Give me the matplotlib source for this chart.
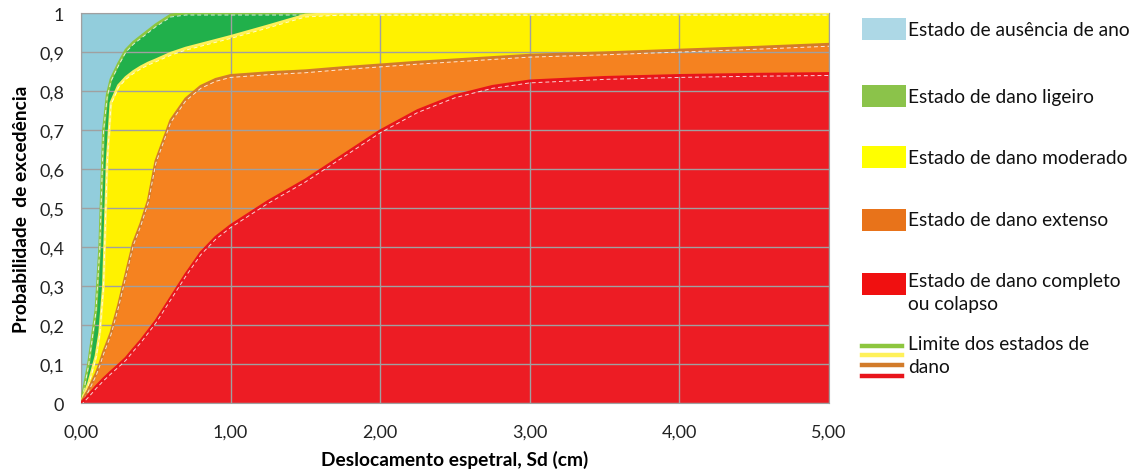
import numpy as np
import matplotlib
matplotlib.use("Agg")
import matplotlib.pyplot as plt
from matplotlib.patches import Rectangle
from matplotlib.lines import Line2D
from matplotlib import transforms

plt.rcParams['font.family'] = ['Lato', 'DejaVu Sans']

# spectral displacement (cm)
sd = [0, 0.05, 0.1, 0.125, 0.15, 0.175, 0.2, 0.25, 0.3, 0.35, 0.4, 0.45, 0.5, 0.6,
      0.7, 0.8, 0.9, 1.0, 1.25, 1.5, 1.75, 2.0, 2.25, 2.5, 2.75, 3.0, 3.5, 4.0, 4.5, 5.0]

# exceedance probability of each damage state
p_ligeiro = [0, 0.10, 0.24, 0.40, 0.70, 0.79, 0.83, 0.87, 0.905, 0.925, 0.94, 0.955, 0.97, 0.995,
             1.0, 1.0, 1.0, 1.0, 1.0, 1.0, 1.0, 1.0, 1.0, 1.0, 1.0, 1.0, 1.0, 1.0, 1.0, 1.0]
p_moderado = [0, 0.05, 0.12, 0.18, 0.30, 0.62, 0.77, 0.814, 0.835, 0.85, 0.862, 0.872, 0.88, 0.897,
              0.91, 0.92, 0.93, 0.94, 0.967, 0.995, 1.0, 1.0, 1.0, 1.0, 1.0, 1.0, 1.0, 1.0, 1.0, 1.0]
p_extenso = [0, 0.035, 0.075, 0.10, 0.13, 0.155, 0.18, 0.25, 0.33, 0.41, 0.46, 0.52, 0.62, 0.725,
             0.78, 0.812, 0.83, 0.84, 0.847, 0.852, 0.86, 0.867, 0.874, 0.88, 0.886, 0.892, 0.898,
             0.905, 0.912, 0.92]
p_completo = [0, 0.02, 0.042, 0.052, 0.062, 0.071, 0.08, 0.097, 0.115, 0.138, 0.16, 0.185, 0.21, 0.27,
              0.33, 0.385, 0.425, 0.455, 0.517, 0.572, 0.635, 0.698, 0.75, 0.788, 0.812, 0.826, 0.835,
              0.84, 0.843, 0.845]

x_ticks = [0, 1, 2, 3, 4, 5]
y_ticks = [0, 0.1, 0.2, 0.3, 0.4, 0.5, 0.6, 0.7, 0.8, 0.9, 1.0]
x_labels = ['0,00', '1,00', '2,00', '3,00', '4,00', '5,00']
y_labels = ['0', '0,1', '0,2', '0,3', '0,4', '0,5', '0,6', '0,7', '0,8', '0,9', '1']

legend_labels = ['Estado de ausência de ano', 'Estado de dano ligeiro', 'Estado de dano moderado',
                 'Estado de dano extenso', 'Estado de dano completo\nou colapso',
                 'Limite dos estados de\ndano']

fill_cols = ['#92CDDC', '#21B04B', '#FFF200', '#F58220', '#ED1C24']
leg_cols = ['#ADD8E6', '#8BC34A', '#FFFF00', '#E8731A', '#F01010']
line_cols = ['#8DC63F', '#FFF15A', '#D27B2A', '#E8141B']

x = np.array(sd)
ones = np.ones_like(x)

fig = plt.figure(figsize=(11.38, 4.77), dpi=100)
ax = fig.add_axes([0.0712, 0.153, 0.6573, 0.8176])

ax.fill_between(x, p_ligeiro, ones, color=fill_cols[0], lw=0)
ax.fill_between(x, p_moderado, p_ligeiro, color=fill_cols[1], lw=0)
ax.fill_between(x, p_extenso, p_moderado, color=fill_cols[2], lw=0)
ax.fill_between(x, p_completo, p_extenso, color=fill_cols[3], lw=0)
ax.fill_between(x, 0, p_completo, color=fill_cols[4], lw=0)

# damage state limits, with a thin white dashed trace just below
below = transforms.offset_copy(ax.transData, fig=fig, x=0, y=-2, units='dots')
for curve, c in zip([p_ligeiro, p_moderado, p_extenso, p_completo], line_cols):
    ax.plot(x, curve, color=c, lw=2, zorder=4, solid_capstyle='round', solid_joinstyle='round')
    ax.plot(x, curve, color='white', lw=0.7, ls=(0, (4, 3)), alpha=0.8,
            transform=below, zorder=4)

ax.set_xlim(0, 5)
ax.set_ylim(0, 1)
ax.set_xticks(x_ticks)
ax.set_xticklabels(x_labels)
ax.set_yticks(y_ticks)
ax.set_yticklabels(y_labels)
ax.tick_params(length=0, labelsize=13, colors='#222222')
ax.tick_params(axis='x', pad=15)
ax.tick_params(axis='y', pad=12)
ax.grid(True, color='#A0A0A0', lw=1, zorder=3)
ax.set_axisbelow(False)
for s in ax.spines.values():
    s.set_color('#A0A0A0')

ax.set_xlabel('Deslocamento espetral, Sd (cm)', fontsize=13.8, fontweight='bold', labelpad=7)
ax.set_ylabel('Probabilidade  de excedência', fontsize=13.8, fontweight='bold', labelpad=7)

# legend on the right
W, H = 1138, 477
box_ys = [30, 97, 158, 221, 285]
for yc, col, lab in zip(box_ys, leg_cols, legend_labels[:5]):
    fig.patches.append(Rectangle((862 / W, 1 - (yc + 11) / H), 44 / W, 22 / H,
                                 transform=fig.transFigure, color=col, lw=0))
    if '\n' in lab:
        fig.text(908 / W, 1 - (yc - 12) / H, lab, fontsize=13.8, va='top', ha='left',
                 color='#111111', linespacing=1.4)
    else:
        fig.text(908 / W, 1 - yc / H, lab, fontsize=13.8, va='center', ha='left',
                 color='#111111')

for yc, col in zip([347, 356, 366, 377], line_cols):
    fig.lines.append(Line2D([862 / W, 902 / W], [1 - yc / H] * 2, transform=fig.transFigure,
                            color=col, lw=3.2))
fig.text(908 / W, 1 - 336 / H, legend_labels[5], fontsize=13.8, va='top', ha='left',
         color='#111111', linespacing=1.4)

fig.savefig('out.png', dpi=100, facecolor='white')
